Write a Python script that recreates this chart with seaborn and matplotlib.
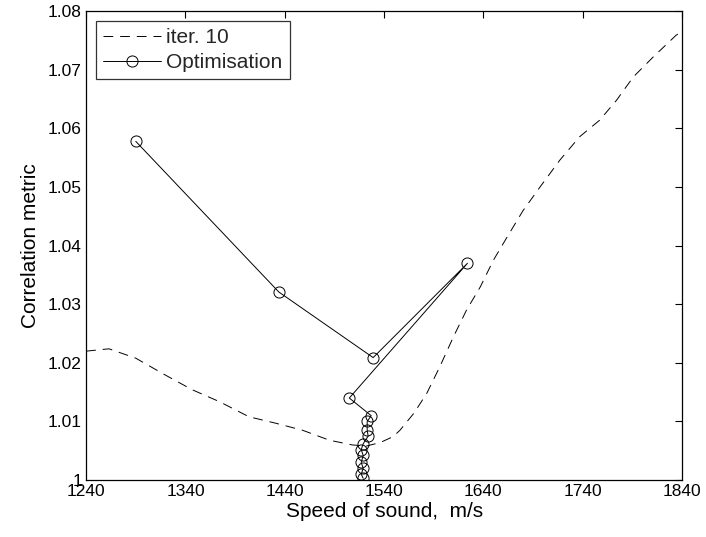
import matplotlib
matplotlib.use("Agg")
import matplotlib.pyplot as plt
import seaborn as sns
import pandas as pd

# Correlation metric sweep over speed of sound (iteration 10)
sweep_speed = [1240, 1263, 1290, 1320, 1347, 1374, 1404, 1431, 1458, 1485,
               1508, 1522, 1536, 1549, 1556, 1570, 1583, 1596, 1610, 1623,
               1637, 1650, 1664, 1680, 1697, 1717, 1737, 1757, 1774, 1791,
               1811, 1834, 1840]
sweep_metric = [1.0220, 1.0224, 1.0208, 1.0179, 1.0154, 1.0134, 1.0108, 1.0097,
                1.0085, 1.0068, 1.0060, 1.0058, 1.0064, 1.0074, 1.0085, 1.0114,
                1.0148, 1.0193, 1.0245, 1.0290, 1.0330, 1.0375, 1.0415, 1.0460,
                1.0500, 1.0546, 1.0586, 1.0614, 1.0648, 1.0688, 1.0722, 1.0759,
                1.0766]

# Optimiser path, in evaluation order
opt_speed = [1290, 1434, 1529, 1624, 1505, 1527, 1523, 1523, 1524, 1519,
             1517, 1519, 1517, 1519, 1517, 1519]
opt_metric = [1.0578, 1.0321, 1.0209, 1.0370, 1.0140, 1.0110, 1.0100, 1.0085,
              1.0075, 1.0062, 1.0052, 1.0042, 1.0030, 1.0020, 1.0010, 1.0003]

x_ticks = [1240, 1340, 1440, 1540, 1640, 1740, 1840]
y_ticks = [1.00, 1.01, 1.02, 1.03, 1.04, 1.05, 1.06, 1.07, 1.08]
y_tick_labels = ["1", "1.01", "1.02", "1.03", "1.04", "1.05", "1.06", "1.07", "1.08"]

sns.set_theme(style="white")
plt.rcParams["font.family"] = ["Liberation Sans", "DejaVu Sans"]
plt.rcParams["lines.scale_dashes"] = False

sweep = pd.DataFrame({"speed": sweep_speed, "metric": sweep_metric})
opt = pd.DataFrame({"speed": opt_speed, "metric": opt_metric})

fig = plt.figure(figsize=(7.06, 5.37), dpi=100)
ax = fig.add_axes([0.122, 0.106, 0.844, 0.873])

sns.lineplot(data=sweep, x="speed", y="metric", ax=ax, color="black",
             linewidth=0.7, estimator=None, errorbar=None, label="iter. 10")
ax.lines[-1].set_linestyle((0, (7, 5)))
sns.lineplot(data=opt, x="speed", y="metric", ax=ax, sort=False,
             estimator=None, errorbar=None,
             color="black", linewidth=0.7, marker="o", markersize=8,
             markerfacecolor="none", markeredgecolor="black",
             markeredgewidth=0.7, label="Optimisation")

ax.set_xlim(1240, 1840)
ax.set_ylim(1.0, 1.08)
ax.set_xticks(x_ticks)
ax.set_xticklabels([str(t) for t in x_ticks])
ax.set_yticks(y_ticks)
ax.set_yticklabels(y_tick_labels)
ax.tick_params(direction="in", length=5, width=0.8, labelsize=12.5,
               top=True, right=True, colors="black", pad=3)
for s in ax.spines.values():
    s.set_color("black")
    s.set_linewidth(0.9)

ax.set_xlabel("Speed of sound,  m/s", fontsize=15, color="black", labelpad=2)
ax.set_ylabel("Correlation metric", fontsize=15, color="black", labelpad=6)

leg = ax.legend(loc="upper left", fontsize=15, frameon=True, fancybox=False,
                edgecolor="black", handlelength=2.8, borderpad=0.35,
                labelspacing=0.3, handletextpad=0.25, borderaxespad=0.45)
leg.get_frame().set_linewidth(0.9)
leg.get_lines()[0].set_linestyle((0, (7, 5)))

fig.savefig("out.png", dpi=100)
